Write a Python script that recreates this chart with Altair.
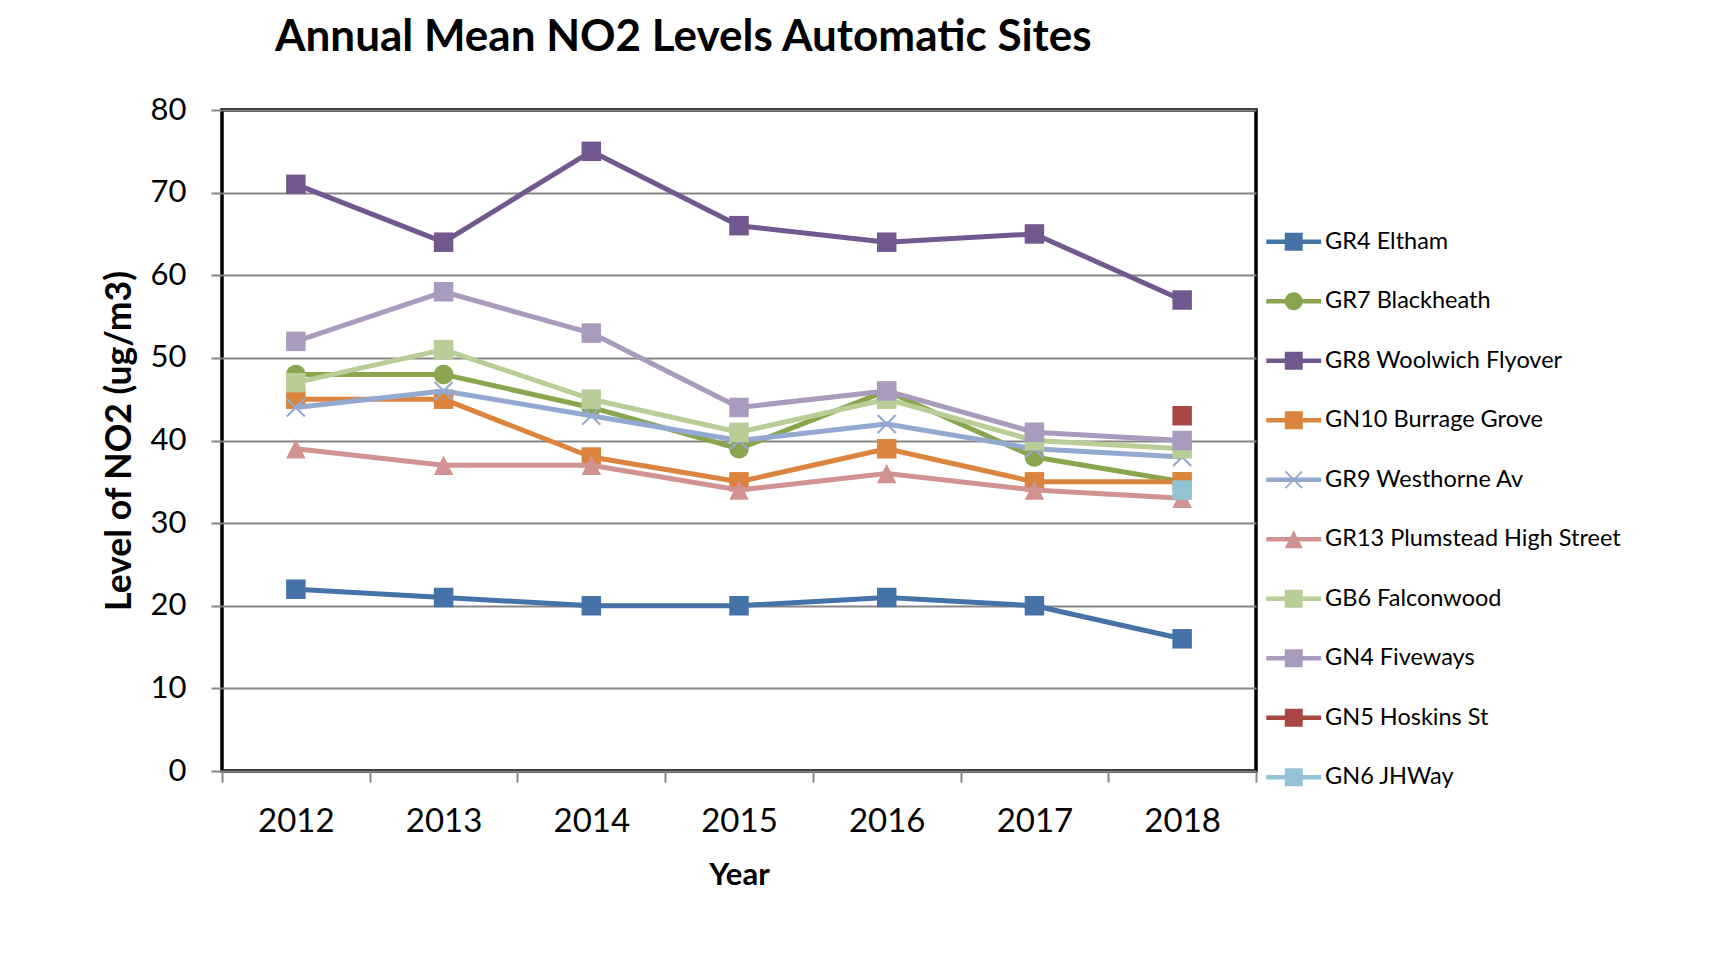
import altair as alt
import pandas as pd

years = [2012, 2013, 2014, 2015, 2016, 2017, 2018]
sites = [
    "GR4 Eltham",
    "GR7 Blackheath",
    "GR8 Woolwich Flyover",
    "GN10 Burrage Grove",
    "GR9 Westhorne Av",
    "GR13 Plumstead High Street",
    "GB6 Falconwood",
    "GN4 Fiveways",
    "GN5 Hoskins St",
    "GN6 JHWay",
]
gr4 = [22, 21, 20, 20, 21, 20, 16]
gr7 = [48, 48, 44, 39, 46, 38, 35]
gr8 = [71, 64, 75, 66, 64, 65, 57]
gn10 = [45, 45, 38, 35, 39, 35, 35]
gr9 = [44, 46, 43, 40, 42, 39, 38]
gr13 = [39, 37, 37, 34, 36, 34, 33]
gb6 = [47, 51, 45, 41, 45, 40, 39]
gn4 = [52, 58, 53, 44, 46, 41, 40]
gn5 = [None, None, None, None, None, None, 43]
gn6 = [None, None, None, None, None, None, 34]
series_values = [gr4, gr7, gr8, gn10, gr9, gr13, gb6, gn4, gn5, gn6]
colors = ["#4572A7", "#89A54E", "#71588F", "#DB843D", "#93A9CF",
          "#D19392", "#B9CD96", "#A99BBD", "#AA4643", "#92C3D5"]
y_ticks = [0, 10, 20, 30, 40, 50, 60, 70, 80]

rows = []
for site, vals in zip(sites, series_values):
    for yr, v in zip(years, vals):
        if v is not None:
            rows.append({"site": site, "year": yr, "value": v})
df = pd.DataFrame(rows)

SQ = "M-1,-1H1V1H-1Z"
CI = "M1,0A1,1 0 1,1 -1,0A1,1 0 1,1 1,0Z"
TR = "M0,-1L1,1L-1,1Z"
XX = ("M-1,-0.85L-0.85,-1L0,-0.15L0.85,-1L1,-0.85L0.15,0L1,0.85L0.85,1"
      "L0,0.15L-0.85,1L-1,0.85L-0.15,0Z")
LINE = "M-3.05,-0.26H3.05V0.26H-3.05Z "
marker_paths = [SQ, CI, SQ, SQ, XX, TR, SQ, SQ, SQ, SQ]
legend_paths = [LINE + p for p in marker_paths]

FONT = "Lato"
W, H = 1034, 661
band = W / len(years)

x_scale = alt.Scale(domain=[years[0] - 0.5, years[-1] + 0.5], nice=False, zero=False)
y_scale = alt.Scale(domain=[0, 80], nice=False)

x_axis = alt.Axis(
    values=[y - 0.5 for y in years] + [years[-1] + 0.5],
    labelExpr="datum.value > %d ? '' : toString(datum.value + 0.5)" % years[-1],
    labelOffset=band / 2,
    labelFontSize=33, labelFont=FONT, labelColor="black",
    labelPadding=39.5, labelBaseline="middle", labelOverlap=False, labelFlush=False,
    labelBound=False,
    tickSize=11, tickColor="#868686", tickWidth=2,
    domain=False, grid=False,
    title="Year", titleFont=FONT, titleFontSize=31, titleFontWeight="bold",
    titleColor="black", titleY=104, titleBaseline="middle",
)
y_axis = alt.Axis(
    values=y_ticks, grid=True, gridColor="#868686", gridWidth=2,
    tickSize=11, tickColor="#868686", tickWidth=2, domain=False,
    labelFontSize=31, labelFont=FONT, labelColor="black", labelPadding=25,
    title="Level  of NO2 (ug/m3)", titleFont=FONT, titleFontSize=35.5,
    titleFontWeight="bold", titleColor="black",
    titleX=-103, titleY=H / 2, titleAlign="center", titleBaseline="middle",
    titleAngle=270,
)

X = alt.X("year:Q", scale=x_scale, axis=x_axis)
Y = alt.Y("value:Q", scale=y_scale, axis=y_axis)

layers = []
for site, color, path in zip(sites, colors, marker_paths):
    base = alt.Chart(df).transform_filter(alt.datum.site == site)
    line = base.mark_line(color=color, strokeWidth=5, strokeJoin="round").encode(x=X, y=Y)
    pts = base.mark_point(shape=path, filled=True, color=color, size=380, opacity=1).encode(x=X, y=Y)
    layers += [line, pts]

legend = alt.Legend(
    title=None, orient="none", legendX=1060, legendY=120, padding=0,
    rowPadding=34.5, labelOffset=19.6, symbolSize=324, symbolOpacity=1,
    symbolStrokeWidth=0, labelFontSize=23.5, labelFont=FONT, labelColor="black",
    labelLimit=500, direction="vertical",
)
legend_layer = alt.Chart(df).mark_point(filled=True, opacity=0).encode(
    x=X, y=Y,
    fill=alt.Fill("site:N", scale=alt.Scale(domain=sites, range=colors), legend=legend),
    shape=alt.Shape("site:N", scale=alt.Scale(domain=sites, range=legend_paths), legend=legend),
)
layers.append(legend_layer)

chart = alt.layer(*layers).properties(
    width=W, height=H,
    title=alt.TitleParams(
        "Annual Mean NO2 Levels Automatic Sites", font=FONT, fontSize=44,
        fontWeight="bold", color="black", anchor="start", frame="group",
        dx=53, offset=34,
    ),
    autosize=alt.AutoSizeParams(type="none"),
    padding={"left": 214, "top": 102, "right": 460, "bottom": 170},
).configure(
    background="white",
    view=alt.ViewConfig(stroke="black", strokeWidth=3.5),
)

chart.save("out.html", embed_options={"renderer": "svg", "actions": False})
